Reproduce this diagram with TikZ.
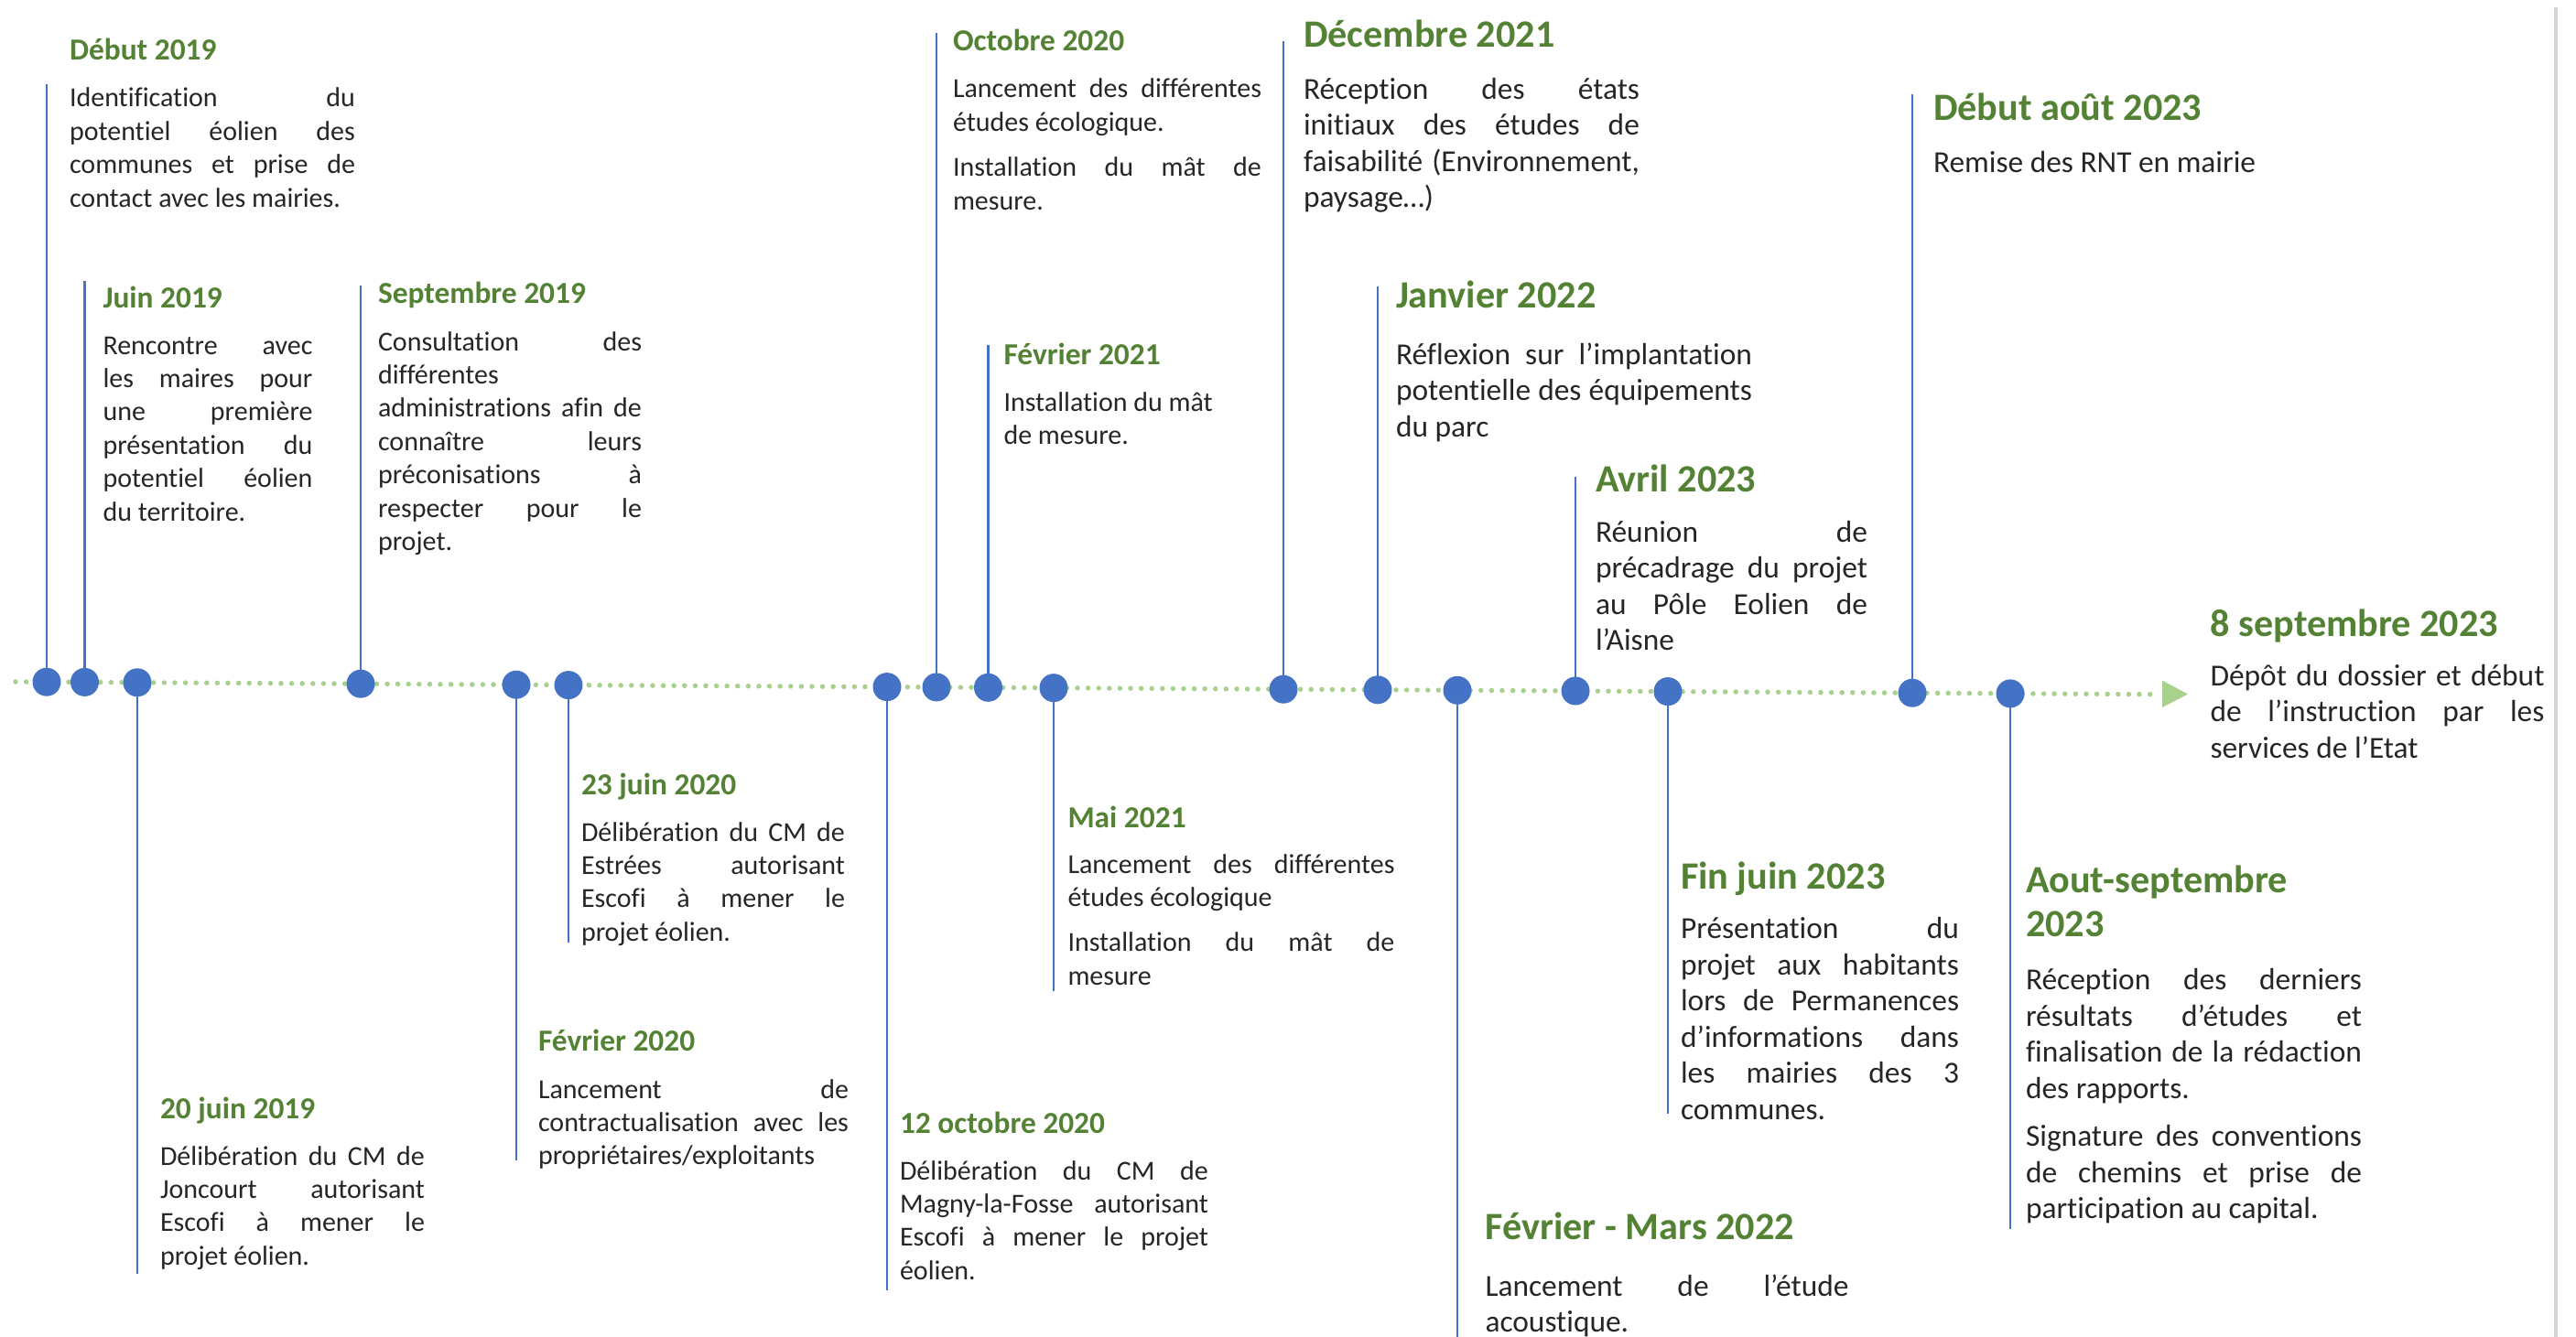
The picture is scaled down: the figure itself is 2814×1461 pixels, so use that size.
\documentclass[tikz,border=0pt]{standalone}
\usepackage{fontspec}
\setmainfont{Carlito}[Ligatures=NoCommon]
\definecolor{hgreen}{HTML}{548235}
\definecolor{lblue}{HTML}{4472C4}
\definecolor{lgreen}{HTML}{A9D18E}
\definecolor{btext}{HTML}{262626}
\definecolor{edgegray}{HTML}{D4D4D4}
\newcommand\bwd{0pt}
\newcommand\jst[1]{\hbox to \bwd{#1}}
\newcommand\lst[1]{\hbox{#1}}
\newcommand\pgap{\vskip 13pt}
\tikzset{
  hs/.style={anchor=base west, inner sep=0pt, outer sep=0pt, text=hgreen, font=\fontsize{33.4}{40}\selectfont\bfseries},
  hl/.style={anchor=base west, inner sep=0pt, outer sep=0pt, text=hgreen, font=\fontsize{42.2}{48.5}\selectfont\bfseries},
  bs/.style={anchor=base west, inner sep=0pt, outer sep=0pt, text=btext, font=\fontsize{30}{36.4}\selectfont},
  bl/.style={anchor=base west, inner sep=0pt, outer sep=0pt, text=btext, font=\fontsize{33.4}{39.5}\selectfont},
  dotn/.style={circle, fill=lblue, minimum size=31pt, inner sep=0pt},
  stem/.style={draw=lblue, line width=2.5pt},
  tl/.style={draw=lgreen, line width=5.5pt, line cap=round, dash pattern=on 0pt off 11.6pt},
}
\begin{document}
\begin{tikzpicture}[x=1pt, y=-1pt]
\fill[white] (0,0) rectangle (2814,1461);
\useasboundingbox (0,0) rectangle (2814,1461);
% right edge line
\coordinate (e1) at (2792,8);
\coordinate (e2) at (2792,1461);
\draw[edgegray, line width=3.5pt] (e1) -- (e2);
% timeline
\coordinate (ls) at (17,745);
\coordinate (le) at (2358,758.8);
\draw[tl] (ls) -- (le);
\coordinate (ab1) at (2362,743.5);
\coordinate (ab2) at (2362,773);
\coordinate (atip) at (2390,758.5);
\fill[lgreen] (ab1) -- (atip) -- (ab2) -- cycle;
% dot positions and stem ends
\coordinate (p1) at (51,745.2);    \coordinate (t1) at (51,92);
\coordinate (p2) at (92.5,745.4);  \coordinate (t2) at (92.5,307);
\coordinate (p3) at (150,745.8);   \coordinate (t3) at (150,1392);
\coordinate (p4) at (394,747.2);   \coordinate (t4) at (394,312);
\coordinate (p5) at (564,748.2);   \coordinate (t5) at (564,1268);
\coordinate (p6) at (621,748.6);   \coordinate (t6) at (621,1030);
\coordinate (p7) at (969,750.6);   \coordinate (t7) at (969,1410);
\coordinate (p8) at (1023,750.9);  \coordinate (t8) at (1023,36);
\coordinate (p9) at (1079.5,751.3);\coordinate (t9) at (1079.5,377);
\coordinate (p10) at (1151,751.7); \coordinate (t10) at (1151,1083);
\coordinate (p11) at (1402,753.2); \coordinate (t11) at (1402,45);
\coordinate (p12) at (1505,753.8); \coordinate (t12) at (1505,313);
\coordinate (p13) at (1592,754.3); \coordinate (t13) at (1592,1461);
\coordinate (p14) at (1721,755.0); \coordinate (t14) at (1721,521);
\coordinate (p15) at (1822,755.6); \coordinate (t15) at (1822,1217);
\coordinate (p16) at (2089,757.2); \coordinate (t16) at (2089,103);
\coordinate (p17) at (2196,757.9); \coordinate (t17) at (2196,1343);
\foreach \i in {1,...,17} {\draw[stem] (p\i) -- (t\i);}
\foreach \i in {1,...,17} {\node[dotn] (d\i) at (p\i) {};}
% ---- texts ----
% 1 Debut 2019
\node[hs] (h1) at (76,66) {Début 2019};
\node[bs] (b1) at (76,117) {\def\bwd{312pt}\vtop{%
 \jst{Identification du}\jst{potentiel éolien des}\jst{communes et prise de}\lst{contact avec les mairies.}}};
% 2 Juin 2019
\node[hs] (h2) at (112.5,336) {Juin 2019};
\node[bs] (b2) at (112.5,387) {\def\bwd{229pt}\vtop{%
 \jst{Rencontre avec}\jst{les maires pour}\jst{une première}\jst{présentation du}\jst{potentiel éolien}\lst{du territoire.}}};
% 3 Septembre 2019
\node[hs] (h3) at (413,331) {Septembre 2019};
\node[bs] (b3) at (413,383) {\def\bwd{288pt}\vtop{%
 \jst{Consultation des}\lst{différentes}\jst{administrations afin de}\jst{connaître leurs}\jst{préconisations à}\jst{respecter pour le}\lst{projet.}}};
% 4 20 juin 2019
\node[hs] (h4) at (175,1222) {20 juin 2019};
\node[bs] (b4) at (175,1273) {\def\bwd{289pt}\vtop{%
 \jst{Délibération du CM de}\jst{Joncourt autorisant}\jst{Escofi à mener le}\lst{projet éolien.}}};
% 5 Fevrier 2020
\node[hs] (h5) at (588,1148) {Février 2020};
\node[bs] (b5) at (588,1200) {\def\bwd{339pt}\vtop{%
 \jst{Lancement de}\jst{contractualisation avec les}\lst{propriétaires/exploitants}}};
% 6 23 juin 2020
\node[hs] (h6) at (635,868) {23 juin 2020};
\node[bs] (b6) at (635,919) {\def\bwd{288pt}\vtop{%
 \jst{Délibération du CM de}\jst{Estrées autorisant}\jst{Escofi à mener le}\lst{projet éolien.}}};
% 7 12 octobre 2020
\node[hs] (h7) at (983,1238) {12 octobre 2020};
\node[bs] (b7) at (983,1289) {\def\bwd{337pt}\vtop{%
 \jst{Délibération du CM de}\jst{Magny-la-Fosse autorisant}\jst{Escofi à mener le projet}\lst{éolien.}}};
% 8 Octobre 2020
\node[hs] (h8) at (1041,56) {Octobre 2020};
\node[bs] (b8) at (1041,107) {\def\bwd{337pt}\vtop{%
 \jst{Lancement des différentes}\lst{études écologique.}\pgap\jst{Installation du mât de}\lst{mesure.}}};
% 9 Fevrier 2021
\node[hs] (h9) at (1096.5,398) {Février 2021};
\node[bs] (b9) at (1096.5,449) {\vtop{%
 \lst{Installation du mât}\lst{de mesure.}}};
% 10 Mai 2021
\node[hs] (h10) at (1166.5,904) {Mai 2021};
\node[bs] (b10) at (1166.5,954) {\def\bwd{357pt}\vtop{%
 \jst{Lancement des différentes}\lst{études écologique}\pgap\jst{Installation du mât de}\lst{mesure}}};
% 11 Decembre 2021
\node[hl] (h11) at (1424,52) {Décembre 2021};
\node[bl] (b11) at (1424,108.5) {\def\bwd{367pt}\vtop{%
 \jst{Réception des états}\jst{initiaux des études de}\jst{faisabilité (Environnement,}\lst{paysage…)}}};
% 12 Janvier 2022
\node[hl] (h12) at (1525,336) {Janvier 2022};
\node[bl] (b12) at (1525,398) {\def\bwd{389pt}\vtop{%
 \jst{Réflexion sur l’implantation}\jst{potentielle des équipements}\lst{du parc}}};
% 13 Fevrier - Mars 2022
\node[hl] (h13) at (1622.5,1354) {Février - Mars 2022};
\node[bl] (b13) at (1622.5,1416) {\def\bwd{397pt}\vtop{%
 \jst{Lancement de l’étude}\lst{acoustique.}}};
% 14 Avril 2023
\node[hl] (h14) at (1743,537) {Avril 2023};
\node[bl] (b14) at (1743,592) {\def\bwd{297pt}\vtop{%
 \jst{Réunion de}\jst{précadrage du projet}\jst{au Pôle Eolien de}\lst{l’Aisne}}};
% 15 Fin juin 2023
\node[hl] (h15) at (1836,971) {Fin juin 2023};
\node[bl] (b15) at (1836,1025.5) {\def\bwd{304pt}\vtop{%
 \jst{Présentation du}\jst{projet aux habitants}\jst{lors de Permanences}\jst{d’informations dans}\jst{les mairies des 3}\lst{communes.}}};
% 16 Debut aout 2023
\node[hl] (h16) at (2112,131.6) {Début août 2023};
\node[bl] (b16) at (2112,188) {Remise des RNT en mairie};
% 17 Aout-septembre 2023
\node[hl] (h17) at (2213,975) {\vtop{\lst{Aout-septembre}\lst{2023}}};
\node[bl] (b17) at (2213,1081.6) {\def\bwd{367pt}\vtop{%
 \jst{Réception des derniers}\jst{résultats d’études et}\jst{finalisation de la rédaction}\lst{des rapports.}\pgap\jst{Signature des conventions}\jst{de chemins et prise de}\lst{participation au capital.}}};
% 18 8 septembre 2023
\node[hl] (h18) at (2414.5,695.6) {8 septembre 2023};
\node[bl] (b18) at (2414.5,749) {\def\bwd{365pt}\vtop{%
 \jst{Dépôt du dossier et début}\jst{de l’instruction par les}\lst{services de l’Etat}}};
\end{tikzpicture}
\end{document}
